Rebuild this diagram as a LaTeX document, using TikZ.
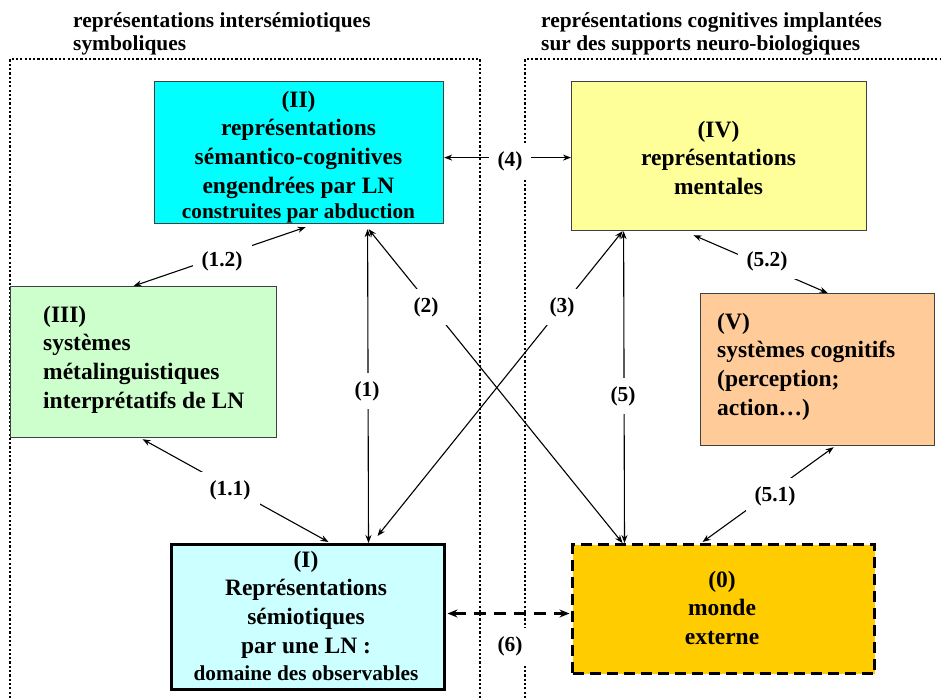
\documentclass[tikz,border=0pt]{standalone}
\usepackage{fontspec}
\setmainfont{Liberation Serif}
\usetikzlibrary{arrows.meta,calc}
\newcommand\toprl{\rule{0pt}{17pt}}
\definecolor{cII}{RGB}{0,255,255}
\definecolor{cIV}{RGB}{255,255,153}
\definecolor{cIII}{RGB}{204,255,204}
\definecolor{cV}{RGB}{255,204,153}
\definecolor{cI}{RGB}{204,255,255}
\definecolor{cO}{RGB}{255,204,0}
\begin{document}
\begin{tikzpicture}[x=1pt,y=-1pt,
  frameline/.style={line width=2.4pt, dash pattern=on 2.2pt off 2.1pt},
  box/.style 2 args={draw=black!75, line width=1.2pt, inner sep=0pt, anchor=north west,
     minimum width=#1, minimum height=#2},
  boxtxt/.style={font=\bfseries\fontsize{23.5}{28.7}\selectfont, align=center, inner sep=0pt, anchor=north},
  boxtxtl/.style={font=\bfseries\fontsize{23.5}{28.7}\selectfont, align=left, inner sep=0pt, anchor=north west},
  ttl/.style={font=\bfseries\fontsize{21.4}{23}\selectfont, align=left, inner sep=0pt, anchor=north west},
  lab/.style={fill=white, inner xsep=9pt, inner ysep=8pt, font=\bfseries\fontsize{21.4}{24}\selectfont},
  conn/.style={{Stealth[length=8pt,width=6pt]}-{Stealth[length=8pt,width=6pt]}, line width=1.1pt},
  dconn/.style={{Stealth[length=10pt,width=8pt]}-{Stealth[length=10pt,width=8pt]}, line width=3pt, dash pattern=on 12pt off 8pt}
]
\useasboundingbox (0,0) rectangle (941,698);
\fill[white] (0,0) rectangle (941,698);

% frames
\draw[frameline] (10,698) -- (10,59) -- (480,59) -- (480,698);
\draw[frameline] (525,698) -- (525,59) -- (941,59);

% titles
\node[ttl] (t1) at (73,10) {\toprl représentations intersémiotiques\\symboliques};
\node[ttl] (t2) at (541,10) {\toprl représentations cognitives implantées\\sur des supports neuro-biologiques};

% boxes
\node[box={289pt}{142pt}, fill=cII] (II) at (154,81) {};
\node[box={295pt}{149pt}, fill=cIV] (IV) at (571,81) {};
\node[box={266pt}{151pt}, fill=cIII] (III) at (10,286) {};
\node[box={234pt}{152pt}, fill=cV] (V) at (700,293) {};
\node[box={273pt}{145pt}, fill=cI, draw=black, line width=3pt] (I) at (170,543) {};
\node[box={302pt}{129pt}, fill=cO, draw=black, line width=3pt, dash pattern=on 11pt off 6pt] (O) at (571,543) {};

% box texts
\node[boxtxt] (IIt) at (298.5,90) {\toprl(II)\\représentations\\sémantico-cognitives\\engendrées par LN\hspace*{14pt}\\[-3.7pt]{\fontsize{21.3}{25}\selectfont construites par abduction}};
\node[boxtxt] (IVt) at (718.5,120) {\toprl(IV)\\représentations\\mentales};
\node[boxtxtl] (IIIt) at (43,305) {\toprl(III)\\systèmes\\métalinguistiques\\interprétatifs de LN};
\node[boxtxtl] (Vt) at (717,312) {\toprl(V)\\systèmes cognitifs\\(perception;\\action…)};
\node[boxtxt] (It) at (306,550) {\toprl(I)\\Représentations\\sémiotiques\\par une LN :\\[-1.7pt]{\fontsize{21.3}{25}\selectfont domaine des observables}};
\node[boxtxt] (Ot) at (722,570) {\toprl(0)\\monde\\externe};

% connectors
\draw[conn] ($(II.east)+(0,5)$) -- ($(IV.west)+(0,1.5)$);
\draw[conn] ($(I.north)+(60.5,0)$) -- ($(II.south)+(68.5,5)$);
\draw[conn] ($(II.south)+(69.5,5)$) -- ($(O.north)+(-101,0)$);
\draw[conn] ($(IV.south)+(-96.5,0)$) -- ($(I.north)+(69.5,-7)$);
\draw[conn] ($(IV.south)+(-95.5,0)$) -- ($(O.north)+(-99,0)$);
\draw[conn] ($(II.south)+(6.5,3)$) -- ($(III.north)+(-10,0)$);
\draw[conn] ($(III.south)+(-1,1)$) -- ($(I.north)+(20.5,-1)$);
\draw[conn] ($(IV.south)+(-25.5,4)$) -- ($(V.north)+(10,0)$);
\draw[conn] ($(V.south)+(16,1)$) -- ($(O.north)+(-21,-1)$);
\draw[dconn] ($(I.east)+(1.5,-3.5)$) -- ($(O.west)+(-1.5,4.5)$);

% labels
\node[lab] (l4) at (510,161) {(4)};
\node[lab] (l1) at (367,391) {(1)};
\node[lab] (l2) at (426,307) {(2)};
\node[lab] (l3) at (562,307) {(3)};
\node[lab] (l12) at (222,261) {(1.2)};
\node[lab] (l11) at (230,490) {(1.1)};
\node[lab] (l5) at (623,396) {(5)};
\node[lab] (l52) at (767,261) {(5.2)};
\node[lab] (l51) at (775,496) {(5.1)};
\node[lab] (l6) at (510,646) {(6)};
\end{tikzpicture}
\end{document}
